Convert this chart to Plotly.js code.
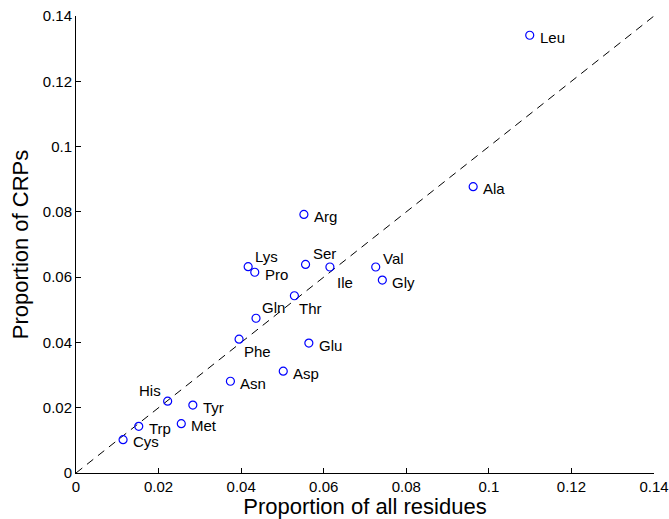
<!DOCTYPE html>
<html>
<head>
<meta charset="utf-8">
<script src="https://cdn.plot.ly/plotly-3.0.1.min.js"></script>
<style>
  html, body { margin: 0; padding: 0; background: #fff; }
  #chart { width: 669px; height: 519px; }
</style>
</head>
<body>
<div id="chart"></div>
<script>
// Amino-acid composition: share among all residues vs. share among CRPs
const residues = ['Leu', 'Ala', 'Arg', 'Lys', 'Pro', 'Ser', 'Ile', 'Val', 'Gly', 'Thr',
                  'Gln', 'Phe', 'Glu', 'Asp', 'Asn', 'His', 'Tyr', 'Met', 'Trp', 'Cys'];
const allResidues = [0.1099, 0.0962, 0.0552, 0.0417, 0.0433, 0.0556, 0.0615, 0.0726, 0.0742, 0.0529,
                     0.0436, 0.0395, 0.0564, 0.0502, 0.0374, 0.0222, 0.0283, 0.0255, 0.0152, 0.0114];
const crps =        [0.1341, 0.0877, 0.0792, 0.0632, 0.0615, 0.0639, 0.0631, 0.0631, 0.0591, 0.0543,
                     0.0474, 0.0410, 0.0398, 0.0312, 0.0281, 0.0220, 0.0208, 0.0151, 0.0143, 0.0102];
const tickValues = [0, 0.02, 0.04, 0.06, 0.08, 0.1, 0.12, 0.14];
const tickLabels = ['0', '0.02', '0.04', '0.06', '0.08', '0.1', '0.12', '0.14'];

// label placement relative to each marker (pixels): [xshift, yshift, anchor]
const placement = {
  Lys: [5, 10, 'left'], Ser: [5, 11, 'left'], Ile: [5, -15, 'left'], Val: [5, 9, 'left'],
  Gln: [4, 11, 'left'], Thr: [3, -13, 'left'], Phe: [3, -12, 'left'], His: [-5, 11, 'right']
};

const font = 'Liberation Sans, Arial, Helvetica, sans-serif';

const annotations = residues.map((name, i) => {
  const p = placement[name] || [8, -2, 'left'];
  return {
    x: allResidues[i], y: crps[i], xref: 'x', yref: 'y',
    text: name, showarrow: false,
    xanchor: p[2], yanchor: 'middle', xshift: p[0], yshift: p[1],
    font: { family: font, size: 15, color: '#000' }
  };
});

const diagonal = {
  x: [0, 0.14], y: [0, 0.14], mode: 'lines', hoverinfo: 'skip',
  line: { color: '#000', width: 1, dash: '8px,6px' }
};

const points = {
  x: allResidues, y: crps, text: residues, mode: 'markers', type: 'scatter',
  marker: { symbol: 'circle-open', size: 8, color: '#0000ff', line: { width: 1.2, color: '#0000ff' } }
};

const axisBase = {
  range: [0, 0.14], tickvals: tickValues, ticktext: tickLabels,
  showgrid: false, zeroline: false, showline: true, linecolor: '#000', linewidth: 1,
  ticks: 'inside', ticklen: 5, tickcolor: '#000', mirror: false,
  tickfont: { family: font, size: 15, color: '#000' }
};

const layout = {
  width: 669, height: 519,
  margin: { l: 76, r: 15, t: 16, b: 46 },
  paper_bgcolor: '#fff', plot_bgcolor: '#fff',
  showlegend: false,
  xaxis: Object.assign({}, axisBase, {
    title: { text: 'Proportion of all residues', font: { family: font, size: 22, color: '#000' }, standoff: 2 }
  }),
  yaxis: Object.assign({}, axisBase, {
    title: { text: 'Proportion of CRPs', font: { family: font, size: 22, color: '#000' }, standoff: 8 }
  }),
  annotations: annotations
};

Plotly.newPlot('chart', [diagonal, points], layout, { displayModeBar: false, staticPlot: true });
</script>
</body>
</html>
